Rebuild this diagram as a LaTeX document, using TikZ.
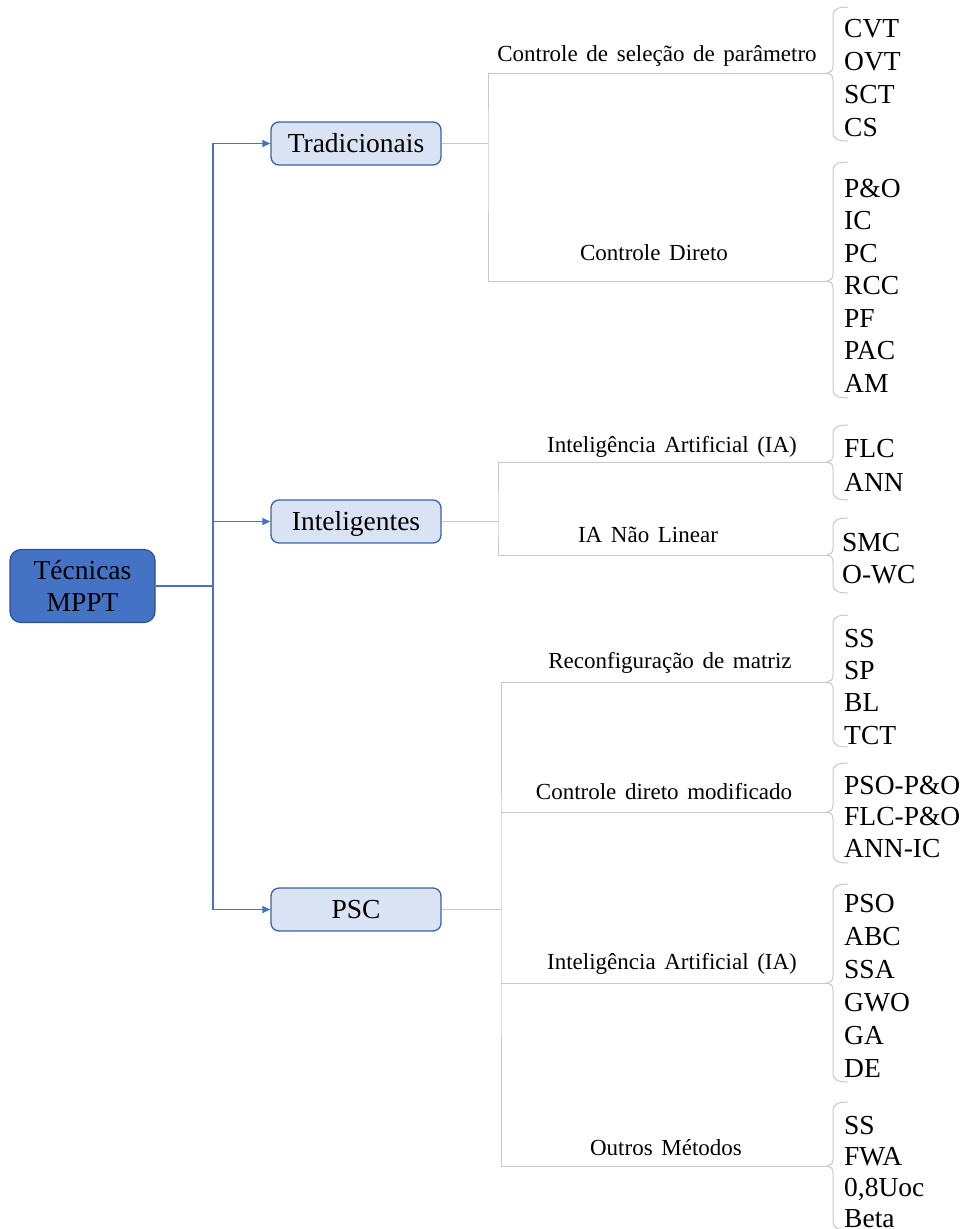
\documentclass[tikz,border=0pt]{standalone}
\usepackage{fontspec}
\setmainfont{Liberation Serif}
\newfontfamily\labelfont[WordSpace=1.5]{Liberation Serif}
\usetikzlibrary{arrows.meta}

\definecolor{rootfill}{HTML}{4472C4}
\definecolor{rootedge}{HTML}{2F528F}
\definecolor{catfill}{HTML}{DAE3F3}
\definecolor{catedge}{HTML}{3A62A8}
\definecolor{feedblue}{HTML}{4472C4}
\definecolor{linkgray}{HTML}{C8C8C8}

% left curly brace: top y, tip y, bottom y
\newcommand\groupbrace[3]{%
  \draw[link] (848,#1) .. controls (838,#1) and (833,#1+2) .. (833,#1+9)
    -- (833,#2-7) .. controls (833,#2-2) and (830,#2) .. (827,#2)
    .. controls (830,#2) and (833,#2+2) .. (833,#2+7)
    -- (833,#3-9) .. controls (833,#3-2) and (838,#3) .. (848,#3);}

% column of method names: prefix, x, first y, step, list
\newcommand\itemlist[5]{%
  \foreach \t [count=\i from 0] in {#5}
    \node[item] (#1-\i) at (#2,#3+#4*\i) {\t};}

\begin{document}
\begin{tikzpicture}[x=1pt,y=-1pt,
  root/.style={draw=rootedge, fill=rootfill, rounded corners=11pt, line width=1.2pt,
    minimum width=145pt, minimum height=73pt, inner sep=0pt, align=center,
    font=\fontsize{27.5}{32}\selectfont},
  cat/.style={draw=catedge, fill=catfill, rounded corners=8pt, line width=1.3pt,
    minimum width=170pt, minimum height=43pt, inner sep=0pt,
    text height=18.6pt, text depth=0pt, font=\fontsize{27.5}{33}\selectfont},
  item/.style={anchor=west, inner sep=0pt, text height=18.2pt, text depth=0pt,
    font=\fontsize{27.5}{33}\selectfont},
  grp/.style={inner sep=0pt, text height=15.2pt, text depth=0pt,
    font=\labelfont\fontsize{23}{27}\selectfont},
  link/.style={draw=linkgray, line width=1pt},
  feed/.style={draw=feedblue, line width=1.2pt},
  feedarrow/.style={feed, -{Triangle[length=8pt,width=7pt]}}]

\useasboundingbox (0,0) rectangle (962,1229);

% main nodes
\node[root] (root) at (82.5,586) {Técnicas\\MPPT};
\node[cat] (trad) at (356,143.5) {Tradicionais};
\node[cat] (intel) at (356,521.5) {Inteligentes};
\node[cat] (psc) at (356,909.5) {PSC};

% blue feeders
\coordinate (rj) at (213,586);
\draw[feed] (root.east) -- (rj);
\draw[feedarrow] (rj) |- (trad.west);
\draw[feedarrow] (rj) |- (intel.west);
\draw[feedarrow] (rj) |- (psc.west);

% brace tips
\coordinate (b1) at (827,73);
\coordinate (b2) at (827,281);
\coordinate (b3) at (827,462);
\coordinate (b4) at (827,555);
\coordinate (b5) at (827,682);
\coordinate (b6) at (827,812);
\coordinate (b7) at (827,983);
\coordinate (b8) at (827,1166);

% junctions
\coordinate (tj) at (488,143.5);
\coordinate (ij) at (498,521.5);
\coordinate (pj) at (501,909.5);

% gray links: Tradicionais
\draw[link] (trad.east) -- (tj);
\draw[link] (b1) -| (tj) |- (b2);
% Inteligentes
\draw[link] (intel.east) -- (ij);
\draw[link] (b3) -| (ij) |- (b4);
% PSC
\draw[link] (psc.east) -- (pj);
\draw[link] (b5) -| (pj) |- (b8);
\draw[link] (b6) -- (b6 -| pj);
\draw[link] (b7) -- (b7 -| pj);

% braces
\groupbrace{7}{73}{141}
\groupbrace{162}{281}{398}
\groupbrace{425}{462}{500}
\groupbrace{518}{555}{593}
\groupbrace{615}{682}{747}
\groupbrace{763}{812}{863}
\groupbrace{884}{983}{1082}
\groupbrace{1102}{1166}{1230}

% group labels
\node[grp] (csp) at (657,54) {Controle de seleção de parâmetro};
\node[grp] (cd) at (654,253) {Controle Direto};
\node[grp] (iaa) at (672,445) {Inteligência Artificial (IA)};
\node[grp] (ianl) at (648,535) {IA Não Linear};
\node[grp] (rm) at (670,661) {Reconfiguração de matriz};
\node[grp] (cdm) at (664,792) {Controle direto modificado};
\node[grp] (iab) at (672,962) {Inteligência Artificial (IA)};
\node[grp] (om) at (666,1148) {Outros Métodos};

% method lists
\itemlist{g1}{844}{28}{33}{CVT,OVT,SCT,CS}
\itemlist{g2}{844}{188}{32.5}{P\&O,IC,PC,RCC,PF,PAC,AM}
\itemlist{g3}{844}{448}{34}{FLC,ANN}
\itemlist{g4}{842}{542}{32}{SMC,O-WC}
\itemlist{g5}{844}{638}{32.3}{SS,SP,BL,TCT}
\itemlist{g6}{844}{785}{31.5}{PSO-P\&O,FLC-P\&O,ANN-IC}
\itemlist{g7}{844}{903}{33}{PSO,ABC,SSA,GWO,GA,DE}
\itemlist{g8}{844}{1125}{31}{SS,FWA,{0,8Uoc},Beta}

\end{tikzpicture}
\end{document}
